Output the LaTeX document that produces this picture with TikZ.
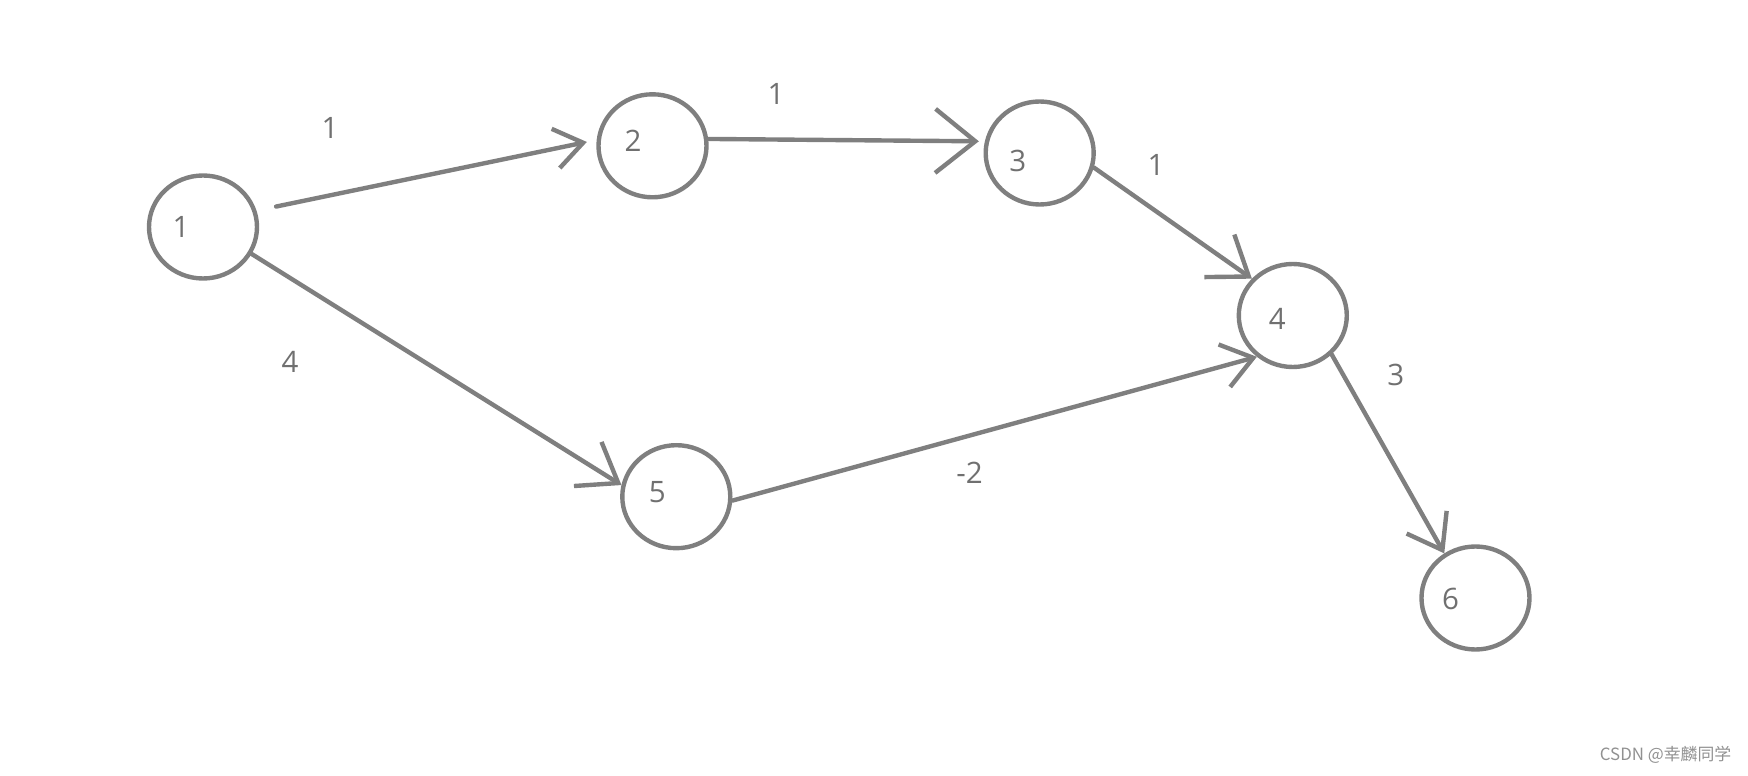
\documentclass[tikz,border=0pt]{standalone}
\usepackage{fontspec}
\setmainfont{Open Sans}
\newfontfamily\cjkfont{Noto Sans CJK SC}
\usetikzlibrary{arrows.meta,shapes.geometric}
\definecolor{penGray}{RGB}{127,127,127}
\definecolor{inkGray}{RGB}{112,112,112}
\definecolor{markGray}{RGB}{145,145,145}

\begin{document}
\begin{tikzpicture}[
    vertex/.style={ellipse, draw=penGray, line width=1.25pt, minimum width=1.08cm, minimum height=1.03cm, inner sep=0pt},
    num/.style={text=inkGray, font=\fontsize{8.4}{10}\selectfont, inner sep=0pt},
    edge/.style={draw=penGray, line width=1.25pt, line cap=round, line join=round, -{Straight Barb[length=3.6mm,width=5.2mm]}}
  ]
  \useasboundingbox (0,0) rectangle (17.48,7.76);

  % vertices
  \node[vertex, label={[num, xshift=-0.22cm]center:1}] (n1) at (2.03,5.49) {};
  \node[vertex, label={[num, xshift=-0.195cm, yshift=0.048cm]center:2}] (n2) at (6.525,6.302) {};
  \node[vertex, label={[num, xshift=-0.22cm, yshift=-0.078cm]center:3}] (n3) at (10.397,6.23) {};
  \node[vertex, label={[num, xshift=-0.155cm, yshift=-0.035cm]center:4}] (n4) at (12.928,4.605) {};
  \node[vertex, label={[num, xshift=-0.19cm, yshift=0.05cm]center:5}] (n5) at (6.763,2.793) {};
  \node[vertex, label={[num, xshift=-0.25cm, yshift=-0.012cm]center:6}] (n6) at (14.755,1.78) {};

  % edges
  \draw[edge, -{Straight Barb[length=2.8mm,width=4mm]}, shorten <=0.2cm, shorten >=0.1cm] (n1.17.5) -- (n2.174);
  \draw[edge, -{Straight Barb[length=4mm,width=6.4mm]}, shorten >=0.06cm] (n2.7.7) -- (n3.168.8);
  \draw[edge] (n3.-15) -- (n4.138);
  \draw[edge] (n1.-29) -- (n5.168);
  \draw[edge, -{Straight Barb[length=3mm,width=4.4mm]}] (n5.-4) -- (n4.-131);
  \draw[edge, -{Straight Barb[length=3.2mm,width=4.6mm]}] (n4.-45) -- (n6.125.5);

  % weights
  \node[num] (w12) at (3.30,6.482) {1};
  \node[num] (w23) at (7.76,6.818) {1};
  \node[num] (w34) at (11.56,6.107) {1};
  \node[num] (w15) at (2.90,4.138) {4};
  \node[num] (w54) at (9.695,3.03) {-2};
  \node[num] (w46) at (13.957,4.014) {3};

  \node[anchor=east, inner sep=0pt, text=markGray, font=\cjkfont\fontsize{4.8}{6}\selectfont] (mark) at (17.32,0.21) {CSDN @幸麟同学};
\end{tikzpicture}
\end{document}
